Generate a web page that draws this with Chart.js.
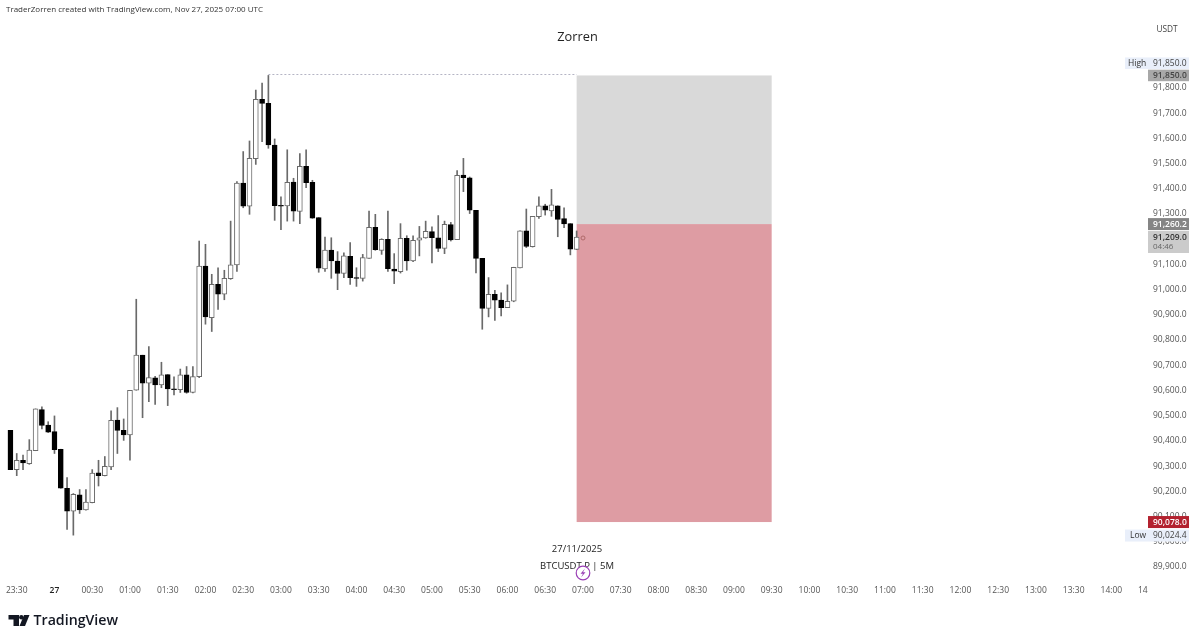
<!DOCTYPE html>
<html><head><meta charset="utf-8">
<style>html,body{margin:0;padding:0;background:#fff}canvas{display:block}</style>
<script src="https://cdn.jsdelivr.net/npm/chart.js@4"></script></head>
<body><canvas id="c" width="1200" height="641"></canvas>
<script>
// BTCUSDT.P 5M candles
const opens=[90442,90286,90323,90310,90361,90524,90463,90437,90367,90212,90121,90186,90126,90155,90273,90262,90297,90483,90442,90424,90601,90740,90629,90650,90622,90663,90607,90603,90662,90592,90655,
91094,90889,91021,90982,91044,91098,91423,91331,91520,91755,91739,91574,91335,91332,91427,91310,91489,91426,91286,91082,91157,91113,91064,91132,91048,91045,91124,91247,91156,91200,
91082,91071,91204,91114,91196,91205,91230,91206,91164,91258,91198,91455,91444,91315,91124,90926,90982,90959,90929,90954,91086,91233,91171,91290,91333,91312,91333,91282,91262,91160];
const highs=[90442,90350,90344,90405,90527,90535,90476,90499,90367,90254,90191,90207,90207,90286,90323,90338,90519,90532,90487,90601,90962,90740,90774,90656,90712,90663,90654,90685,90695,90695,91193,
91180,91061,91087,91077,91272,91429,91548,91590,91792,91820,91850,91598,91368,91555,91442,91540,91555,91434,91286,91209,91206,91151,91146,91187,91087,91140,91312,91299,91202,91312,
91143,91262,91214,91214,91251,91272,91249,91294,91272,91267,91473,91521,91447,91315,91124,91048,90997,90987,91019,91089,91233,91320,91291,91368,91339,91398,91333,91325,91262,91233];
const lows=[90286,90262,90286,90307,90361,90447,90433,90350,90212,90049,90026,90112,90125,90154,90221,90261,90286,90350,90402,90323,90601,90492,90556,90545,90611,90540,90582,90592,90589,90590,90651,
90863,90834,90922,90960,91041,91072,91325,91299,91497,91587,91561,91275,91238,91272,91272,91262,91405,91283,91069,91072,91045,91000,91048,91021,91013,91034,91124,91156,91140,91072,
91024,91066,91077,91111,91134,91204,91106,91151,91143,91193,91198,91389,91302,91066,90843,90892,90878,90896,90929,90952,91086,91167,91169,91283,91296,91291,91210,91246,91138,91159];
const closes=[90286,90323,90313,90364,90527,90461,90435,90365,90212,90121,90188,90126,90157,90272,90262,90299,90482,90442,90424,90601,90740,90629,90651,90622,90662,90606,90603,90662,90592,90655,91094,
90892,91021,90982,91045,91099,91423,91331,91521,91755,91739,91574,91333,91331,91426,91311,91489,91425,91284,91085,91157,91114,91064,91134,91048,91045,91127,91247,91159,91200,91083,
91073,91204,91114,91196,91206,91231,91206,91164,91259,91197,91454,91444,91315,91124,90926,90982,90958,90929,90954,91089,91233,91172,91291,91333,91315,91337,91279,91261,91161,91209];
const timeTicks=['23:30','27','00:30','01:00','01:30','02:00','02:30','03:00','03:30','04:00','04:30','05:00','05:30','06:00','06:30','07:00','07:30','08:00','08:30','09:00','09:30','10:00','10:30','11:00','11:30','12:00','12:30','13:00','13:30','14:00'];
const clippedTick='14';
const priceTicks=[91800,91700,91600,91500,91400,91300,91100,91000,90900,90800,90700,90600,90500,90400,90300,90200,90100,90000,89900];
const slotCount=182, firstTickSlot=2, ticksEvery=6;
const positionTop=91850, positionEntry=91260.2, positionBottom=90078, lastPrice=91209, priceLow=90024.4;
const boxStartSlot=91, boxEndSlot=122, highSlot=42;

const font='"Open Sans",sans-serif';
const labels=Array.from({length:slotCount},(_,i)=>String(i));
const bodies=[null,...opens.map((o,i)=>[o,closes[i]])];
const wicks=[null,...lows.map((l,i)=>[l,highs[i]])];
const isUp=[false,...opens.map((o,i)=>closes[i]>=o)];

const fmt=v=>v.toLocaleString('en-US',{minimumFractionDigits:1,maximumFractionDigits:1});

function tag(ctx,y,x,w,h,bg,text,color){
  ctx.fillStyle=bg;ctx.fillRect(x,y-h/2,w,h);
  ctx.fillStyle=color;ctx.textAlign='left';ctx.textBaseline='middle';
  ctx.font='600 8.5px '+font;ctx.fillText(text,1153,y+0.5);
}
const under={id:'under',beforeDatasetsDraw(ch){
  const c=ch.ctx,x=ch.scales.x,y=ch.scales.y;
  const l=x.getPixelForValue(boxStartSlot),r=x.getPixelForValue(boxEndSlot);
  c.save();
  c.fillStyle='#d9d9d9';c.fillRect(l,y.getPixelForValue(positionTop),r-l,y.getPixelForValue(positionEntry)-y.getPixelForValue(positionTop));
  c.fillStyle='#de9ca3';c.fillRect(l,y.getPixelForValue(positionEntry),r-l,y.getPixelForValue(positionBottom)-y.getPixelForValue(positionEntry));
  c.strokeStyle='#b4b4c4';c.lineWidth=1;c.setLineDash([2,2]);
  const yh=Math.round(y.getPixelForValue(positionTop))-0.5;
  c.beginPath();c.moveTo(x.getPixelForValue(highSlot),yh);c.lineTo(l,yh);c.stroke();
  c.restore();
}};
const over={id:'over',afterDraw(ch){
  const c=ch.ctx,x=ch.scales.x,y=ch.scales.y;
  c.save();
  c.textBaseline='middle';
  // header + title
  c.fillStyle='#333';c.textAlign='left';c.font='8px '+font;
  c.fillText('TraderZorren created with TradingView.com, Nov 27, 2025 07:00 UTC',6,9.5);
  c.fillStyle='#222';c.textAlign='center';c.font='12.8px '+font;
  c.fillText('Zorren',577.5,37.5);
  c.fillStyle='#444';c.font='8.3px '+font;c.fillText('USDT',1167,30);
  // centre labels
  c.fillStyle='#222';c.font='9.5px '+font;
  c.fillText('27/11/2025',577,549);
  c.fillText('BTCUSDT.P | 5M',577,566);
  // lightning badge
  c.beginPath();c.arc(583,573,6.8,0,Math.PI*2);c.fillStyle='#fff';c.fill();c.strokeStyle='#9a3fb5';c.lineWidth=1.2;c.stroke();
  c.fillStyle='#9a3fb5';c.beginPath();c.moveTo(585,568.5);c.lineTo(580.5,573.8);c.lineTo(583,573.8);c.lineTo(581,577.5);c.lineTo(585.5,572.2);c.lineTo(583,572.2);c.closePath();c.fill();
  // current price marker
  c.strokeStyle='#b06a6a';c.lineWidth=1;c.beginPath();c.arc(583,y.getPixelForValue(lastPrice)+1,2,0,Math.PI*2);c.stroke();
  // price tags
  const yTop=y.getPixelForValue(positionTop);
  c.fillStyle='#e9effa';c.fillRect(1125,yTop-18,64,11.5);
  c.fillStyle='#333';c.font='8.5px '+font;c.textAlign='left';c.fillText('High',1128,yTop-12);
  c.fillStyle='#444';c.fillText(fmt(positionTop),1153,yTop-12);
  tag(c,yTop,1148,41,11.5,'#a8a8a8',fmt(positionTop),'#444');
  tag(c,y.getPixelForValue(positionEntry),1148,41,12,'#858585',fmt(positionEntry),'#fff');
  const yl=y.getPixelForValue(lastPrice);
  c.fillStyle='#cbcbcb';c.fillRect(1148,yl-6,41,22);
  c.fillStyle='#333';c.font='600 8.5px '+font;c.textAlign='left';c.fillText(fmt(lastPrice),1153,yl+0.5);
  c.fillStyle='#666';c.font='8px '+font;c.fillText('04:46',1153,yl+10);
  tag(c,y.getPixelForValue(positionBottom),1148,41,12,'#b3222f',fmt(positionBottom),'#fff');
  const yLow=y.getPixelForValue(priceLow);
  c.fillStyle='#e9effa';c.fillRect(1125,yLow-6,64,12);
  c.fillStyle='#333';c.font='8.5px '+font;c.fillText('Low',1130,yLow+0.5);
  c.fillStyle='#444';c.fillText(fmt(priceLow),1153,yLow+0.5);
  // TradingView mark
  c.fillStyle='#131722';
  c.beginPath();c.moveTo(8.5,615);c.lineTo(19,615);c.lineTo(19,626);c.lineTo(13.5,626);c.lineTo(13.5,619.5);c.lineTo(8.5,619.5);c.closePath();c.fill();
  c.beginPath();c.arc(21.3,617.2,2.2,0,Math.PI*2);c.fill();
  c.beginPath();c.moveTo(24,615);c.lineTo(29.5,615);c.lineTo(25,626);c.lineTo(19.5,626);c.closePath();c.fill();
  c.textAlign='left';c.font='600 14.2px '+font;c.fillText('TradingView',33.5,621);
  c.restore();
}};
new Chart(document.getElementById('c'),{
  data:{labels,datasets:[
    {type:'bar',label:'Range',data:wicks,grouped:false,order:2,barThickness:1,backgroundColor:'#6a6a6a',borderWidth:0},
    {type:'bar',label:'Body',data:bodies,grouped:false,order:1,barThickness:5,borderSkipped:false,borderWidth:1,
     backgroundColor:isUp.map(u=>u?'#ffffff':'#000000'),borderColor:isUp.map(u=>u?'#6a6a6a':'#000000')}
  ]},
  options:{
    responsive:false,animation:false,
    layout:{padding:{left:1,top:51,right:0,bottom:0}},
    plugins:{legend:{display:false},tooltip:{enabled:false},title:{display:false}},
    scales:{
      x:{type:'category',grid:{display:false,drawTicks:false},border:{display:false},
        afterFit(s){s.height=62;s.paddingLeft=0;s.paddingRight=0;},
        ticks:{autoSkip:false,maxRotation:0,minRotation:0,padding:6,
          font:c=>({family:font,size:8.5,weight:(c.index===firstTickSlot+ticksEvery)?'600':'400'}),
          color:c=>(c.index===firstTickSlot+ticksEvery)?'#222':'#555',
          callback(v,i){
            if(i===slotCount-1)return clippedTick;
            if(i>=firstTickSlot&&(i-firstTickSlot)%ticksEvery===0)return timeTicks[(i-firstTickSlot)/ticksEvery]||'';
            return '';
          }}},
      y:{type:'linear',position:'right',min:89852,max:91947,grid:{display:false,drawTicks:false},border:{display:false},
        afterFit(s){s.width=54;},
        afterBuildTicks(s){s.ticks=priceTicks.map(v=>({value:v}));},
        ticks:{padding:7,color:'#555',font:{family:font,size:8.5},callback:v=>fmt(v)}}
    }
  },
  plugins:[under,over]
});
</script></body></html>
